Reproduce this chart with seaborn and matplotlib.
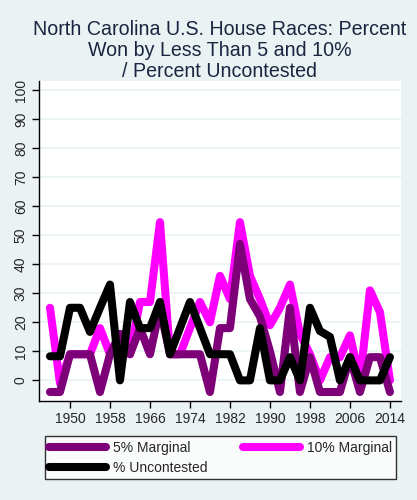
import pandas as pd
import matplotlib
matplotlib.use("Agg")
import matplotlib.pyplot as plt
from matplotlib.lines import Line2D
import seaborn as sns

years = [1946, 1948, 1950, 1952, 1954, 1956, 1958, 1960, 1962, 1964, 1966, 1968,
         1970, 1972, 1974, 1976, 1978, 1980, 1982, 1984, 1986, 1988, 1990, 1992,
         1994, 1996, 1998, 2000, 2002, 2004, 2006, 2008, 2010, 2012, 2014]

marg5 = [-4, -4, 9, 9, 9, -4, 9, 16, 9, 18, 9, 25,
         9, 9, 9, 9, -4, 18, 18, 47, 28, 22, 10, -4,
         25, -4, 8, -4, -4, -4, 8, -4, 8, 8, -4]

marg10 = [25, -1, 9, 9, 9, 18, 9, 16, 9, 27, 27, 54.5,
          9, 9, 18, 27, 20, 36, 28, 54.5, 36, 28, 19, 25,
          33, 16, 9, 0, 8, 8, 15.5, 0, 31, 23.5, 0]

uncont = [8.3, 8.3, 25, 25, 16.7, 25, 33, 0, 27, 18, 18, 27,
          9, 18, 27, 18, 9, 9, 9, 0, 0, 18, 0, 0,
          8, 0, 25, 17, 15, 0, 8, 0, 0, 0, 8]

xticks = [1950, 1958, 1966, 1974, 1982, 1990, 1998, 2006, 2014]
yticks = [0, 10, 20, 30, 40, 50, 60, 70, 80, 90, 100]

df = pd.DataFrame({"year": years, "m5": marg5, "m10": marg10, "unc": uncont})

bg = "#EAF2F3"
purple = "#7D0078"
magenta = "#FF00FF"
sns.set_style("white")
plt.rcParams["font.family"] = ["Liberation Sans", "DejaVu Sans"]

fig = plt.figure(figsize=(4.17, 5.0), dpi=100, facecolor=bg)
ax = fig.add_axes([0.0935, 0.198, 0.868, 0.64])
ax.set_facecolor("white")

lw = 5.8
# magenta underneath, purple over it, black on top (as in the original)
sns.lineplot(data=df, x="year", y="m10", ax=ax, color=magenta, lw=lw, zorder=3)
sns.lineplot(data=df, x="year", y="m5", ax=ax, color=purple, lw=lw, zorder=4)
sns.lineplot(data=df, x="year", y="unc", ax=ax, color="black", lw=lw, zorder=5)

ax.set_xlim(1943.8, 2016.2)
ax.set_ylim(-7.1, 103.1)
ax.set_xticks(xticks)
ax.set_yticks(yticks)
ax.set_yticklabels([str(v) for v in yticks], rotation=90, va="center")
ax.tick_params(axis="both", labelsize=10, length=5, width=1, color="black",
               direction="out", pad=3, left=True, bottom=True)
ax.yaxis.grid(True, color=bg, lw=1.2, zorder=0)
ax.xaxis.grid(False)
ax.set_axisbelow(True)
for s in ["top", "right"]:
    ax.spines[s].set_visible(False)
for s in ["left", "bottom"]:
    ax.spines[s].set_color("black")
    ax.spines[s].set_linewidth(1)
ax.set_xlabel("")
ax.set_ylabel("")

ax.set_title("North Carolina U.S. House Races: Percent\nWon by Less Than 5 and 10%\n/ Percent Uncontested",
             fontsize=14.1, color="#1a2540", linespacing=1.13, pad=3)

# legend row-wise: 5% | 10% / uncontested
handles = [Line2D([], [], color=purple, lw=lw, solid_capstyle="round"),
           Line2D([], [], color="black", lw=lw, solid_capstyle="round"),
           Line2D([], [], color=magenta, lw=lw, solid_capstyle="round")]
labels = ["5% Marginal", "% Uncontested", "10% Marginal"]
leg = fig.legend(handles, labels, ncol=2, loc="lower left",
                 bbox_to_anchor=(0.108, 0.042, 0.842, 0.092), mode="expand",
                 borderaxespad=0, fontsize=10, frameon=True, fancybox=False,
                 handlelength=4.1, handletextpad=0.5, borderpad=0.3,
                 labelspacing=0.45, edgecolor="black")
leg.get_frame().set_linewidth(1)
leg.get_frame().set_facecolor("white")

fig.savefig("out.png", dpi=100, facecolor=bg)
